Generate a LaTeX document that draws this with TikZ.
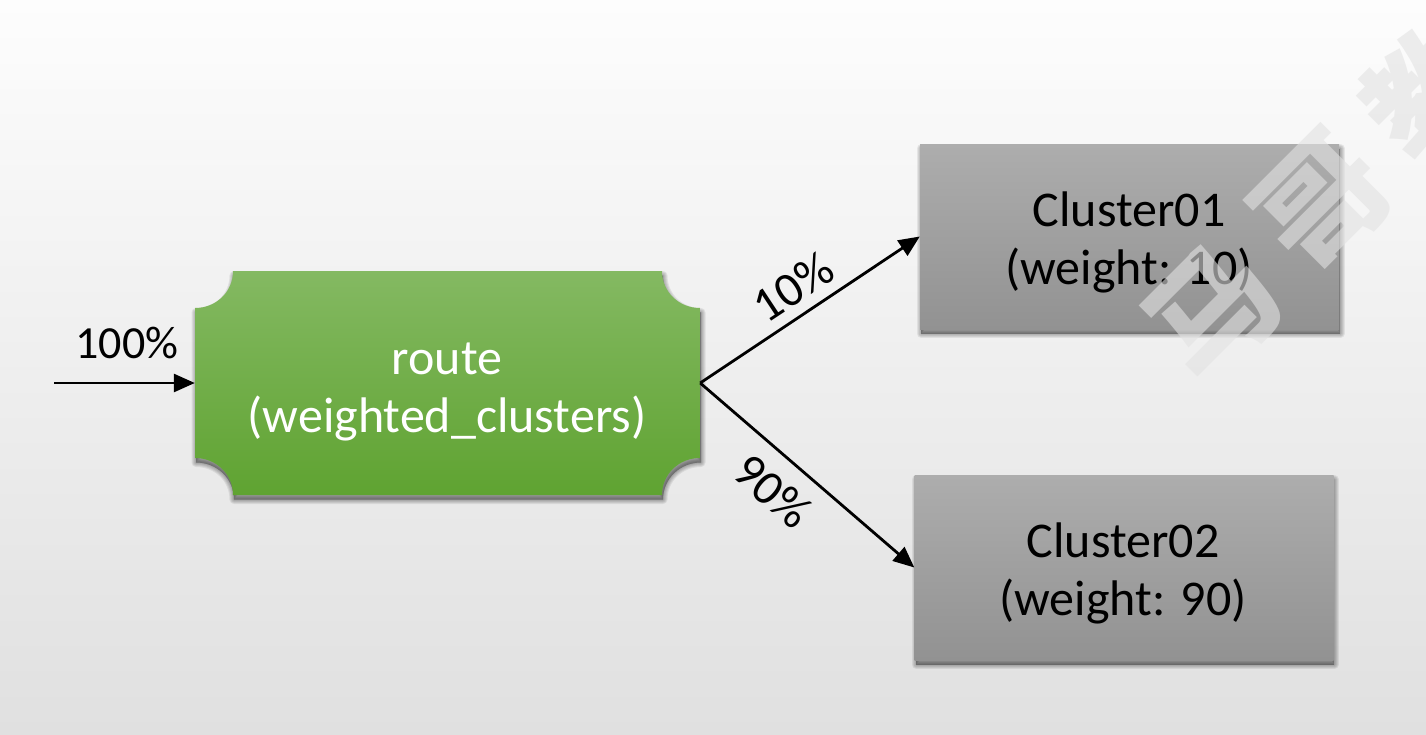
\documentclass[tikz,border=0pt]{standalone}
\usepackage{fontspec}
\setmainfont{Carlito}
\newfontfamily\cjk{Noto Sans CJK SC}
\usetikzlibrary{arrows.meta}
\definecolor{bgtop}{HTML}{FDFDFD}
\definecolor{bgbot}{HTML}{E0E0E0}
\definecolor{gtop}{HTML}{84B962}
\definecolor{gbot}{HTML}{5FA331}
\definecolor{ctop}{HTML}{ADADAD}
\definecolor{cbot}{HTML}{929292}
\definecolor{wm}{HTML}{E2E2E2}
\newcommand{\softshadow}[1]{%
  \foreach \w in {9,7,5,3,1}{%
    \path[fill=black,draw=black,fill opacity=.07,draw opacity=.07,line width=\w pt,line join=round,xshift=1pt,yshift=-4.5pt] #1;
  }}
\newcommand{\routeoutline}{(233,271) -- (662,271)
  .. controls (662,292) and (679,308) .. (700,308)
  -- (700,458)
  .. controls (679,458) and (662,474) .. (662,495)
  -- (233,495)
  .. controls (233,474) and (216,458) .. (195,458)
  -- (195,308)
  .. controls (216,308) and (233,292) .. (233,271) -- cycle}
\tikzset{
  boxtext/.style={font=\fontsize{50}{58}\selectfont,align=center,inner sep=0pt},
  clusterbox/.style={inner sep=0pt,minimum width=419pt,minimum height=185pt,top color=ctop,bottom color=cbot},
  routebox/.style={inner sep=0pt,minimum width=505pt,minimum height=224pt},
  conn/.style={draw=black,line width=2.8pt,-{Triangle[length=21pt,width=18pt]}},
  pct/.style={font=\fontsize{46}{46}\selectfont,inner sep=0pt},
  pctslant/.style={font=\fontsize{49}{49}\selectfont,inner sep=0pt},
  watermark/.style={font=\cjk\bfseries\fontsize{126}{126}\selectfont,text=wm,text opacity=.6,inner sep=0pt,rotate=45}
}
\begin{document}
\begin{tikzpicture}[x=1pt,y=-1pt]
\useasboundingbox (0,0) rectangle (1426,734);
\shade[top color=bgtop,bottom color=bgbot] (0,0) rectangle (1426,734);
% soft shadows
\softshadow{\routeoutline}
\softshadow{(920,144) rectangle (1339,329)}
\softshadow{(915,475) rectangle (1333,660)}
% route shape with concave corners
\path[top color=gtop,bottom color=gbot] \routeoutline;
\node[routebox] (route) at (447.5,383) {};
\node[clusterbox] (c1) at (1129.5,236.5) {};
\node[clusterbox] (c2) at (1124,567.5) {};
\node[boxtext,text=white] (routetext) at (447,392) {route\\(weighted\_clusters)};
\node[boxtext,text=black] (c1text) at (1129,242.5) {Cluster01\\(weight: 10)};
\node[boxtext,text=black] (c2text) at (1123,573.5) {Cluster02\\(weight: 90)};
\coordinate (in) at (54,383);
\draw[conn] (in) -- (route.west);
\draw[conn] (route.east) -- (c1.west);
\draw[conn] (route.east) -- (c2.west);
\node[pct] (l100) at (127,343) {100\%};
\node[pctslant,rotate=33.4] (l10) at (793,287) {10\%};
\node[pctslant,rotate=-40.6] (l90) at (773,491) {90\%};
\node[watermark] (w1) at (1213,312) {马};
\node[watermark] (w2) at (1322,202) {哥};
\node[watermark] (w3) at (1430,92) {教};
\end{tikzpicture}
\end{document}
